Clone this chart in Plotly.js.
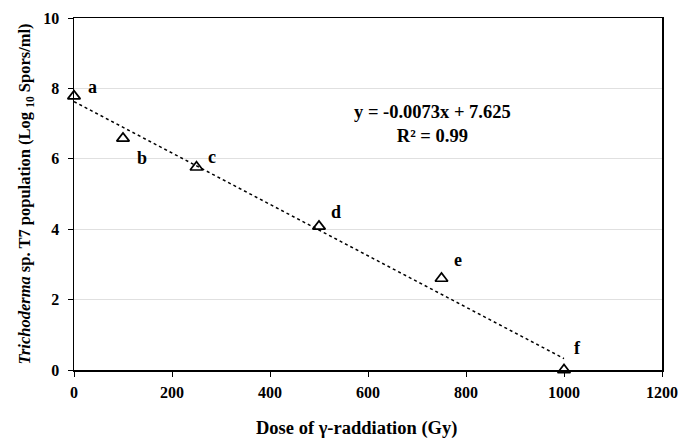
<!DOCTYPE html>
<html><head><meta charset="utf-8">
<script src="https://cdn.plot.ly/plotly-3.0.1.min.js"></script>
<style>html,body{margin:0;padding:0;background:#fff}#c{width:694px;height:441px}</style>
</head><body><div id="c"></div>
<script>
const doses = [0, 100, 250, 500, 750, 1000];
const population = [7.78, 6.58, 5.76, 4.08, 2.6, 0.0];
const letters = ['a', 'b', 'c', 'd', 'e', 'f'];
const trendX = [0, 1000];
const trendY = [7.625, 0.325];
const xTicks = [0, 200, 400, 600, 800, 1000, 1200];
const yTicks = [0, 2, 4, 6, 8, 10];
const letterOffsetX = [18, 19, 15, 17, 16, 13];
const letterOffsetY = [-9, 20, -10, -14, -18, -22];

const serif = 'Liberation Serif, Times New Roman, serif';
const annotations = doses.map((d, i) => ({
  x: d, y: population[i], xref: 'x', yref: 'y', text: '<b>' + letters[i] + '</b>',
  showarrow: false, xshift: letterOffsetX[i], yshift: -letterOffsetY[i],
  font: {family: serif, size: 18, color: '#000'}
}));
annotations.push({
  xref: 'paper', yref: 'paper', x: 0.609, y: 0.699, xanchor: 'center', yanchor: 'middle', showarrow: false,
  text: '<b>y = -0.0073x + 7.625<br>R² = 0.99</b>', align: 'center',
  font: {family: serif, size: 18.5, color: '#000'}
});
annotations.push({
  xref: 'paper', yref: 'paper', x: 0.48, y: -0.165, xanchor: 'center', yanchor: 'middle', showarrow: false,
  text: '<b>Dose of γ-raddiation (Gy)</b>',
  font: {family: serif, size: 18.5, color: '#000'}
});

const data = [
  {x: trendX, y: trendY, mode: 'lines', line: {color: '#000', width: 1.5, dash: 'dot'}, hoverinfo: 'skip', cliponaxis: false},
  {x: doses, y: population, mode: 'markers', cliponaxis: false,
   marker: {symbol: 'triangle-up-open', size: 11, color: '#000', line: {width: 1.7, color: '#000'}}}
];
const layout = {
  width: 694, height: 441, showlegend: false,
  margin: {l: 74, r: 32, t: 18, b: 71},
  paper_bgcolor: '#fff', plot_bgcolor: '#fff',
  font: {family: serif, color: '#000'},
  xaxis: {range: [0, 1200], tickvals: xTicks, ticks: 'outside', ticklen: 5, tickcolor: '#000', ticklabelstandoff: 2,
    showline: true, linecolor: '#000', linewidth: 1.5, mirror: true, showgrid: false, zeroline: false,
    tickfont: {family: serif, size: 16, color: '#000', weight: 'bold'}},
  yaxis: {range: [0, 10], tickvals: yTicks, ticks: 'outside', ticklen: 5, tickcolor: '#000', ticklabelstandoff: 5,
    showline: true, linecolor: '#000', linewidth: 1.5, mirror: true, showgrid: true, gridcolor: '#e0e0e0', zeroline: false,
    tickfont: {family: serif, size: 16, color: '#000', weight: 'bold'},
    title: {text: '<b><i>Trichoderma</i> sp. T7 population (Log <sub>10</sub> Spors/ml)</b>', font: {family: serif, size: 16.5, color: '#000'}, standoff: 8}},
  annotations: annotations
};
Plotly.newPlot('c', data, layout, {displayModeBar: false, staticPlot: true});
</script></body></html>
